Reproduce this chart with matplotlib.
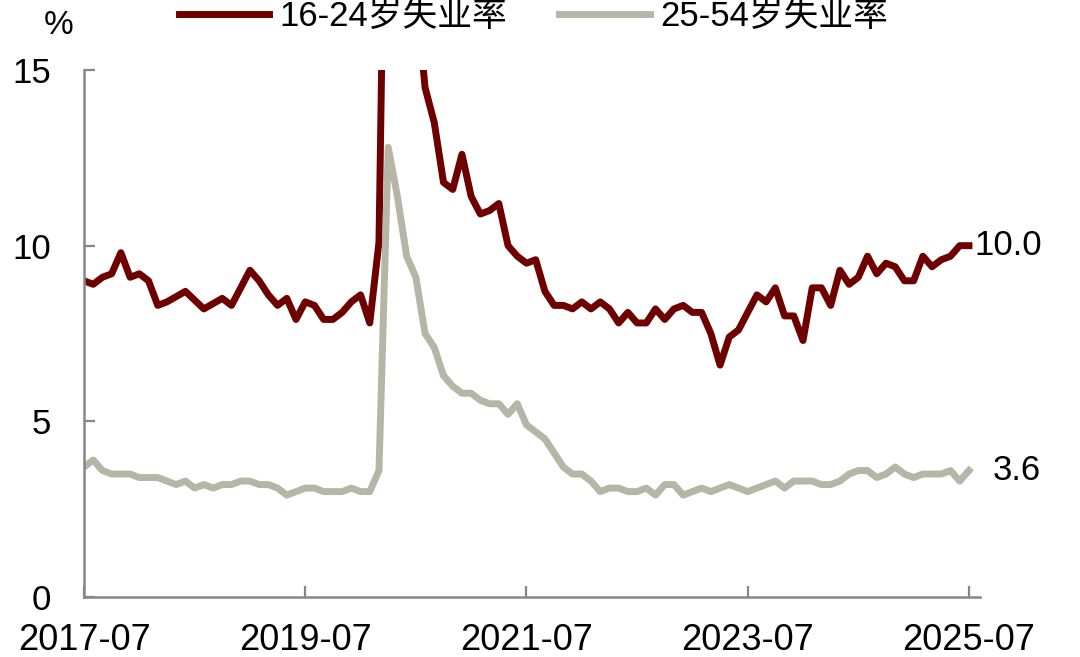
import matplotlib
matplotlib.use("Agg")
import matplotlib.pyplot as plt
import numpy as np

# monthly data, 2017-07 .. 2025-07
youth = [9.0, 8.9, 9.1, 9.2, 9.8, 9.1, 9.2, 9.0, 8.3, 8.4,
         8.55, 8.7, 8.45, 8.2, 8.35, 8.5, 8.3, 8.8, 9.3, 9.0,
         8.6, 8.3, 8.5, 7.9, 8.4, 8.3, 7.9, 7.9, 8.1, 8.4,
         8.6, 7.8, 10.1, 27.4, 24.5, 20.5, 17.3, 14.5, 13.5, 11.8,
         11.6, 12.6, 11.4, 10.9, 11.0, 11.2, 10.0, 9.7, 9.5, 9.6,
         8.7, 8.3, 8.3, 8.2, 8.4, 8.2, 8.4, 8.2, 7.8, 8.1,
         7.8, 7.8, 8.2, 7.9, 8.2, 8.3, 8.1, 8.1, 7.5, 6.6,
         7.4, 7.6, 8.1, 8.6, 8.4, 8.8, 8.0, 8.0, 7.3, 8.8,
         8.8, 8.3, 9.3, 8.9, 9.1, 9.7, 9.2, 9.5, 9.4, 9.0,
         9.0, 9.7, 9.4, 9.6, 9.7, 10.0, 10.0]
prime = [3.7, 3.9, 3.6, 3.5, 3.5, 3.5, 3.4, 3.4, 3.4, 3.3,
         3.2, 3.3, 3.1, 3.2, 3.1, 3.2, 3.2, 3.3, 3.3, 3.2,
         3.2, 3.1, 2.9, 3.0, 3.1, 3.1, 3.0, 3.0, 3.0, 3.1,
         3.0, 3.0, 3.6, 12.8, 11.4, 9.7, 9.1, 7.5, 7.1, 6.3,
         6.0, 5.8, 5.8, 5.6, 5.5, 5.5, 5.2, 5.5, 4.9, 4.7,
         4.5, 4.1, 3.7, 3.5, 3.5, 3.3, 3.0, 3.1, 3.1, 3.0,
         3.0, 3.1, 2.9, 3.2, 3.2, 2.9, 3.0, 3.1, 3.0, 3.1,
         3.2, 3.1, 3.0, 3.1, 3.2, 3.3, 3.1, 3.3, 3.3, 3.3,
         3.2, 3.2, 3.3, 3.5, 3.6, 3.6, 3.4, 3.5, 3.7, 3.5,
         3.4, 3.5, 3.5, 3.5, 3.6, 3.3, 3.6]
xtick_labels = ['2017-07', '2019-07', '2021-07', '2023-07', '2025-07']
xtick_pos = [0, 24, 48, 72, 96]

red = '#6e0000'
grey = '#b6b6a6'
axcol = '#868686'
plt.rcParams['font.family'] = ['Liberation Sans', 'Noto Sans CJK SC', 'DejaVu Sans']

months = np.arange(len(youth))

fig = plt.figure(figsize=(10.8, 6.57), dpi=100)
ax = fig.add_axes([84/1080, 1-597/657, (980-84)/1080, (597-70)/657])

ax.plot(months, youth, color=red, lw=5, label='16-24岁失业率')
ax.plot(months, prime, color=grey, lw=5, label='25-54岁失业率')

ax.set_ylim(0, 15)
ax.set_xlim(0, 97.2)
ax.set_yticks([0, 5, 10, 15])
ax.set_xticks(xtick_pos)
ax.set_xticklabels(xtick_labels, fontsize=26)

for s in ['top', 'right']:
    ax.spines[s].set_visible(False)
for s in ['left', 'bottom']:
    ax.spines[s].set_color(axcol)
    ax.spines[s].set_linewidth(1.8)
ax.tick_params(axis='y', direction='in', length=8, width=1.6, color=axcol,
               labelsize=25, pad=24)
ax.tick_params(axis='x', direction='in', length=8, width=1.6, color=axcol, pad=19)

# end labels
ax.annotate(f'{youth[-1]:.1f}', xy=(months[-1], youth[-1]), xytext=(4, 0),
            textcoords='offset points', va='center', ha='left', fontsize=25,
            annotation_clip=False)
ax.annotate(f'{prime[-1]:.1f}', xy=(months[-1], prime[-1]), xytext=(17, 0),
            textcoords='offset points', va='center', ha='left', fontsize=25,
            annotation_clip=False)

fig.text(59/1080, 1-25/657, '%', fontsize=24, ha='center', va='center')

fig.legend(loc='center', bbox_to_anchor=(0.494, 0.975), ncol=2, frameon=False,
           fontsize=25, handlelength=2.6, handletextpad=0.3, columnspacing=1.5,
           borderpad=0, borderaxespad=0)

fig.savefig('out.png', dpi=100)
